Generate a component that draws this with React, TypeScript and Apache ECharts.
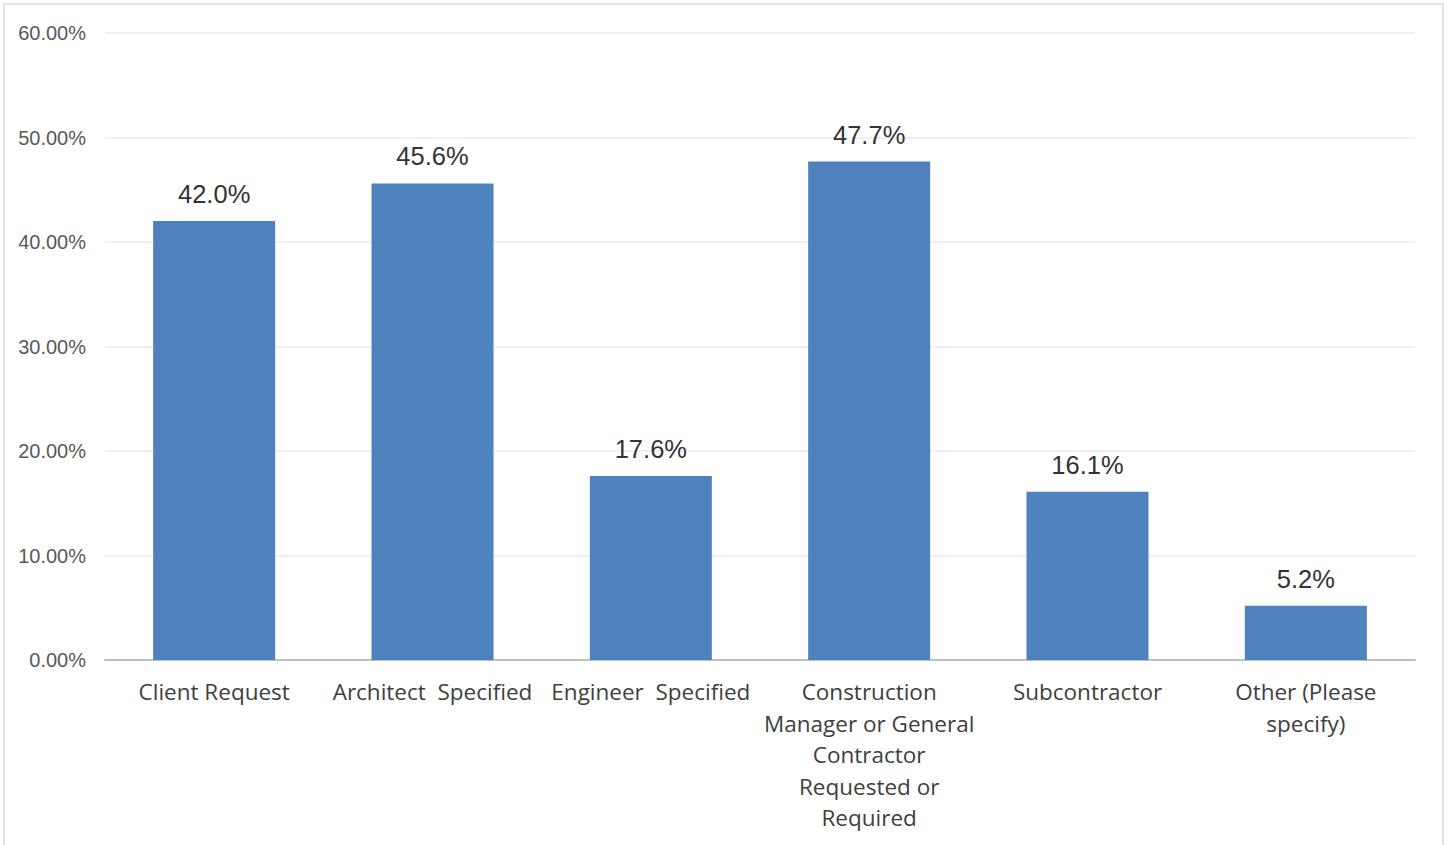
import React, { useEffect, useRef } from "react";
import * as echarts from "echarts";

const categories = [
  "Client Request",
  "Architect  Specified",
  "Engineer  Specified",
  "Construction\nManager or General\nContractor\nRequested or\nRequired",
  "Subcontractor",
  "Other (Please\nspecify)",
];
const values = [42.0, 45.6, 17.6, 47.7, 16.1, 5.2];
const yTicks = [0, 10, 20, 30, 40, 50, 60];

export default function App() {
  const ref = useRef<HTMLDivElement>(null);

  useEffect(() => {
    if (!ref.current) return;
    const chart = echarts.init(ref.current, undefined, { renderer: "svg" });
    chart.setOption({
      animation: false,
      backgroundColor: "#ffffff",
      graphic: [
        {
          type: "rect",
          shape: { x: 4, y: 4, width: 1439, height: 845 },
          style: { fill: "none", stroke: "#e3e3e3", lineWidth: 2 },
          silent: true,
          z: 0,
        },
      ],
      grid: { left: 105, right: 33, top: 33, bottom: 185, containLabel: false },
      xAxis: {
        type: "category",
        data: categories,
        axisLine: { show: true, lineStyle: { color: "#bfbfbf", width: 2 } },
        axisTick: { show: false },
        axisLabel: {
          interval: 0,
          margin: 16,
          fontFamily: "Open Sans",
          fontSize: 22.5,
          lineHeight: 31.5,
          color: "#404040",
        },
      },
      yAxis: {
        type: "value",
        min: yTicks[0],
        max: yTicks[yTicks.length - 1],
        interval: 10,
        axisLine: { show: false },
        axisTick: { show: false },
        splitLine: { lineStyle: { color: "#f0f0f0", width: 2 } },
        axisLabel: {
          margin: 19,
          fontFamily: "Liberation Sans",
          fontSize: 20,
          color: "#595959",
          formatter: (v: number) => v.toFixed(2) + "%",
        },
      },
      series: [
        {
          type: "bar",
          data: values,
          barWidth: 122,
          itemStyle: { color: "#4f81bd" },
          label: {
            show: true,
            position: "top",
            distance: 14,
            fontFamily: "Liberation Sans",
            fontSize: 25.5,
            color: "#333333",
            formatter: (p: any) => p.value.toFixed(1) + "%",
          },
        },
      ],
    });
    return () => chart.dispose();
  }, []);

  return (
    <div
      ref={ref}
      style={{ position: "fixed", left: 0, top: 0, width: 1448, height: 845 }}
    />
  );
}
